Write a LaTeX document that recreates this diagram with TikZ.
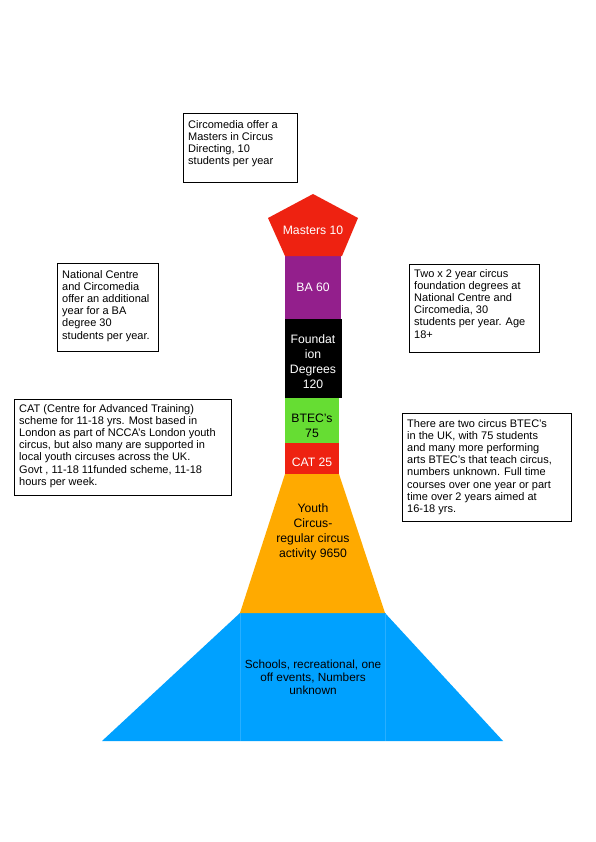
\documentclass[tikz,border=0pt]{standalone}
\usepackage{fontspec}
\setmainfont{Liberation Sans}
\usetikzlibrary{shadows}
\definecolor{cred}{RGB}{238,34,17}
\definecolor{cpurple}{RGB}{147,31,140}
\definecolor{cgreen}{RGB}{102,221,51}
\definecolor{corange}{RGB}{255,170,0}
\definecolor{cblue}{RGB}{0,161,255}
\definecolor{cbluel}{RGB}{40,175,255}
\begin{document}
\begin{tikzpicture}[x=1pt,y=-1pt,
  infobox/.style={draw=black, fill=white, line width=0.7pt, inner sep=0pt, anchor=north west,
    drop shadow={shadow xshift=1pt, shadow yshift=-1pt, fill=gray!70, opacity=1}},
  boxtxt/.style={inner sep=0pt, anchor=north west, align=left, font=\fontsize{11}{12.2}\selectfont},
  lvl/.style={inner sep=0pt, align=center, font=\fontsize{12.2}{15}\selectfont},
  lvlw/.style={lvl, text=white}]
\useasboundingbox (0,0) rectangle (595,842);
\fill[white] (0,0) rectangle (595,842);

% pyramid levels
\fill[cblue] (240,613) -- (385,613) -- (503,741) -- (102,741) -- cycle;
\draw[cbluel, line width=0.6pt] (240,613) -- (240,741);
\draw[cbluel, line width=0.6pt] (385,613) -- (385,741);
\fill[corange] (285,474) -- (339,474) -- (385,613) -- (240,613) -- cycle;
\fill[cred] (285,443) rectangle (339,474);
\fill[cgreen] (285,398) rectangle (339,443);
\fill[black] (285,319) rectangle (342,398);
\fill[cpurple] (285,255) rectangle (341,319);
\fill[cred] (313,194) -- (358,218) -- (342,256) -- (285,256) -- (268,218) -- cycle;

% level labels
\node[lvlw] (masters) at (313,230) {Masters 10};
\node[lvlw] (ba) at (313,287) {BA 60};
\node[lvlw] (fd) at (313,362) {Foundat\\ion\\Degrees\\120};
\node[lvl] (btec) at (312,426) {BTEC’s\\75};
\node[lvlw] (cat) at (312,462) {CAT 25};
\node[lvl] (youth) at (313,532) {Youth\\Circus-\\regular circus\\activity 9650};
\node[lvl, font=\fontsize{11.8}{13}\selectfont] (schools) at (313,677) {Schools, recreational, one\\off events, Numbers\\unknown};

% info boxes
\node[infobox, minimum width=114pt, minimum height=69pt] (b1) at (183,113) {};
\node[boxtxt] (t1) at (188,120) {Circomedia offer a\\Masters in Circus\\Directing, 10\\students per year};

\node[infobox, minimum width=101pt, minimum height=88pt] (b2) at (57,263) {};
\node[boxtxt] (t2) at (62,270) {National Centre\\and Circomedia\\offer an additional\\year for a BA\\degree 30\\students per year.};

\node[infobox, minimum width=130pt, minimum height=88pt] (b3) at (409,264) {};
\node[boxtxt] (t3) at (414,269) {Two x 2 year circus\\foundation degrees at\\National Centre and\\Circomedia, 30\\students per year. Age\\18+};

\node[infobox, minimum width=217pt, minimum height=96pt] (b4) at (14,399) {};
\node[boxtxt] (t4) at (19,404) {CAT (Centre for Advanced Training)\\scheme for 11-18 yrs. Most based in\\London as part of NCCA’s London youth\\circus, but also many are supported in\\local youth circuses across the UK.\\Govt , 11-18 11funded scheme, 11-18\\hours per week.};

\node[infobox, minimum width=169pt, minimum height=108pt] (b5) at (402,413) {};
\node[boxtxt] (t5) at (407,419) {There are two circus BTEC’s\\in the UK, with 75 students\\and many more performing\\arts BTEC’s that teach circus,\\numbers unknown. Full time\\courses over one year or part\\time over 2 years aimed at\\16-18 yrs.};
\end{tikzpicture}
\end{document}
